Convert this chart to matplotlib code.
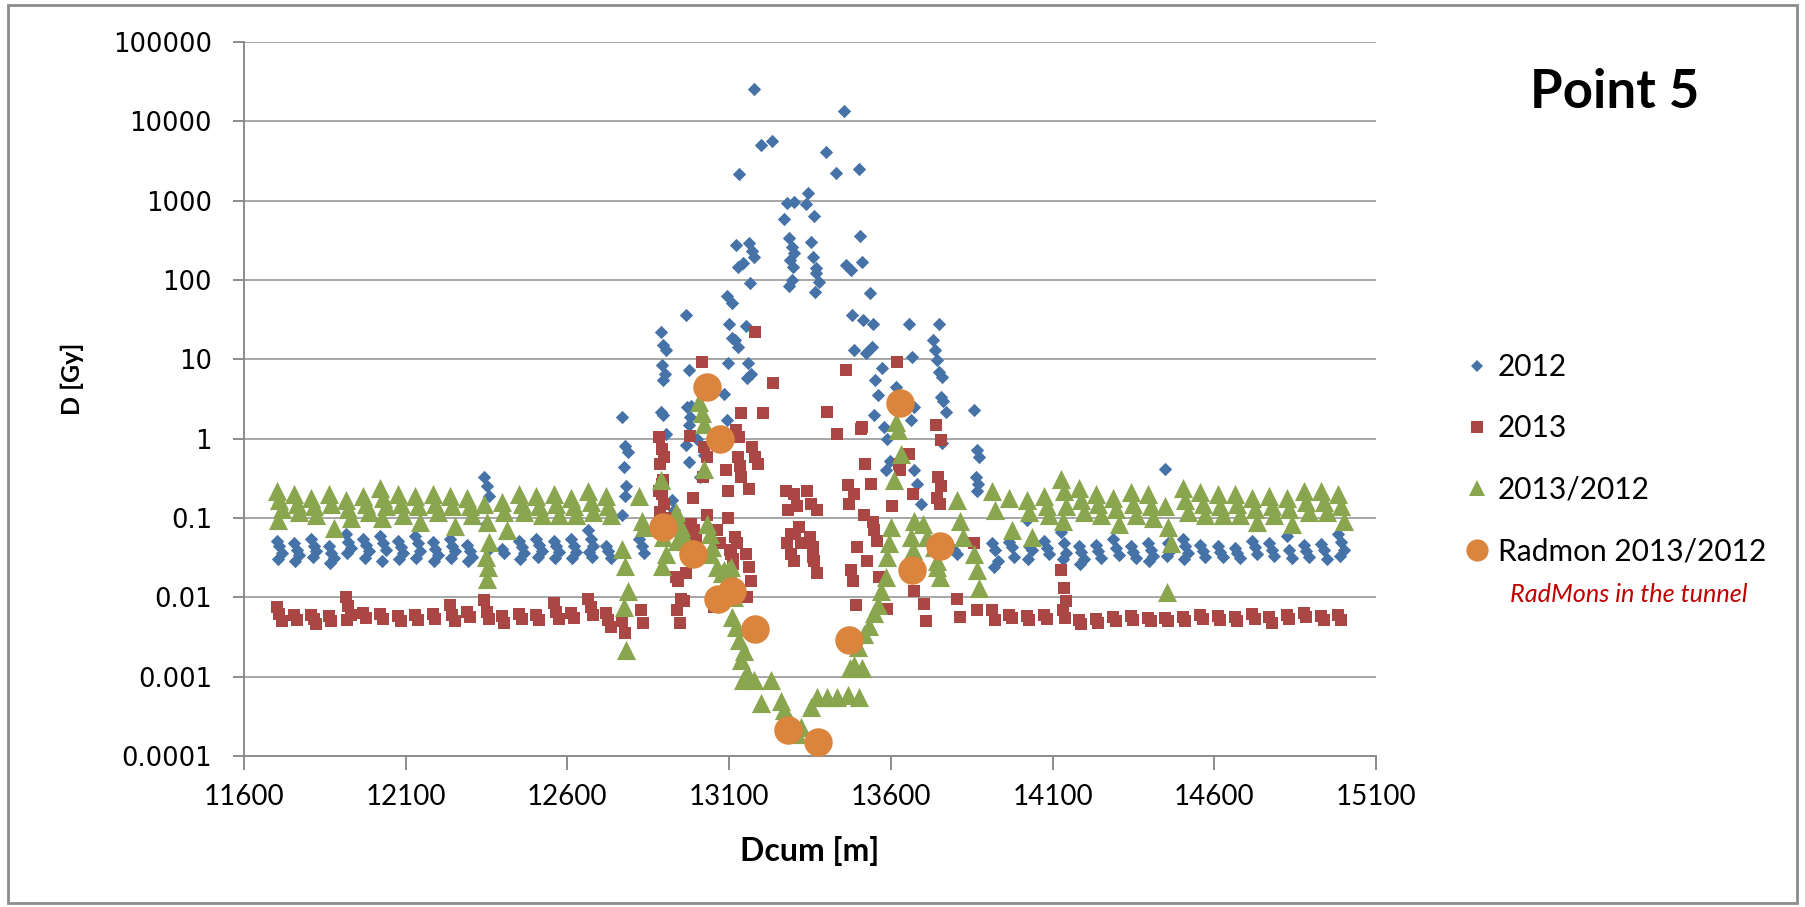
import numpy as np
import matplotlib
matplotlib.use("Agg")
import matplotlib.pyplot as plt
from matplotlib.lines import Line2D
from matplotlib.patches import Rectangle

# ---- data (Dcum [m], dose [Gy]) ----
# half-cell positions in the arcs left and right of Point 5
arc_l_x = [11709, 11763, 11816, 11870, 11923, 11977, 12030, 12084, 12137, 12191,
           12244, 12298, 12351, 12405, 12458, 12512, 12565, 12619, 12672, 12726]
arc_r_x = [13922, 13974, 14028, 14082, 14135, 14189, 14242, 14296, 14350, 14403,
           14457, 14510, 14564, 14618, 14671, 14725, 14778, 14832, 14885, 14939, 14992]
# BLM spread inside one half-cell
blm_offset = [-8, 0, 8, -4, 4, 0]

arc_l_2012 = [[0.052, 0.044, 0.036, 0.030], [0.048, 0.040, 0.034, 0.029],
              [0.055, 0.045, 0.038, 0.032], [0.044, 0.036, 0.031, 0.027],
              [0.062, 0.050, 0.042, 0.036], [0.055, 0.046, 0.038, 0.031],
              [0.060, 0.049, 0.040, 0.029], [0.052, 0.043, 0.036, 0.030],
              [0.060, 0.048, 0.038, 0.031], [0.050, 0.041, 0.034, 0.029],
              [0.055, 0.045, 0.038, 0.031], [0.046, 0.038, 0.032, 0.029],
              [0.33, 0.25, 0.19, 0.085, 0.040], [0.041, 0.036],
              [0.052, 0.043, 0.036, 0.030], [0.055, 0.046, 0.038, 0.032],
              [0.052, 0.044, 0.037, 0.031], [0.054, 0.045, 0.037, 0.031],
              [0.070, 0.055, 0.045, 0.037, 0.032], [0.045, 0.038, 0.031]]
arc_l_2013 = [[0.0075, 0.0062, 0.0050], [0.0060, 0.0052], [0.0060, 0.0054, 0.0046],
              [0.0058, 0.0050], [0.0102, 0.0078, 0.0060, 0.0052], [0.0064, 0.0055],
              [0.0062, 0.0054], [0.0058, 0.0050], [0.0060, 0.0052], [0.0062, 0.0054],
              [0.0080, 0.0060, 0.0050], [0.0065, 0.0056], [0.0092, 0.0066, 0.0054],
              [0.0058, 0.0048], [0.0062, 0.0054], [0.0060, 0.0052],
              [0.0085, 0.0065, 0.0053], [0.0064, 0.0055], [0.0095, 0.0075, 0.0060],
              [0.0064, 0.0052, 0.0042]]
arc_l_ratio = [[0.22, 0.17, 0.13, 0.095], [0.20, 0.15, 0.12], [0.18, 0.14, 0.11],
               [0.20, 0.15, 0.075], [0.17, 0.13, 0.10], [0.19, 0.15, 0.12],
               [0.24, 0.18, 0.14, 0.10], [0.20, 0.15, 0.11], [0.19, 0.14, 0.09],
               [0.20, 0.15, 0.12], [0.19, 0.14, 0.08], [0.18, 0.14, 0.11],
               [0.15, 0.09, 0.05, 0.032, 0.024, 0.017], [0.16, 0.12, 0.07],
               [0.20, 0.15, 0.12], [0.19, 0.14, 0.11], [0.20, 0.15, 0.11],
               [0.18, 0.14, 0.11], [0.22, 0.16, 0.12], [0.19, 0.14, 0.11]]

arc_r_2012 = [[0.048, 0.039, 0.029, 0.024], [0.050, 0.043, 0.032],
              [0.094, 0.045, 0.039, 0.030], [0.052, 0.042, 0.035],
              [0.067, 0.048, 0.036, 0.030], [0.045, 0.037, 0.030, 0.026],
              [0.046, 0.038, 0.031], [0.055, 0.042, 0.034], [0.045, 0.037, 0.031],
              [0.048, 0.040, 0.033, 0.029], [0.42, 0.048, 0.040, 0.033],
              [0.055, 0.045, 0.036, 0.030], [0.046, 0.038, 0.032],
              [0.045, 0.037, 0.032], [0.042, 0.036, 0.031], [0.052, 0.043, 0.035],
              [0.048, 0.040, 0.033], [0.060, 0.040, 0.031], [0.046, 0.038, 0.032],
              [0.047, 0.039, 0.030], [0.062, 0.050, 0.040, 0.033]]
arc_r_2013 = [[0.0069, 0.0052], [0.0060, 0.0055], [0.0058, 0.0052], [0.0060, 0.0054],
              [0.022, 0.013, 0.009, 0.0070, 0.0055], [0.0052, 0.0046],
              [0.0054, 0.0047], [0.0056, 0.0050], [0.0058, 0.0052], [0.0055, 0.0050],
              [0.0055, 0.0050], [0.0057, 0.0051], [0.0060, 0.0053], [0.0058, 0.0052],
              [0.0056, 0.0050], [0.0062, 0.0054], [0.0056, 0.0047], [0.0060, 0.0053],
              [0.0064, 0.0056], [0.0058, 0.0052], [0.0060, 0.0052]]
arc_r_ratio = [[0.22, 0.125], [0.18, 0.07], [0.17, 0.12, 0.058], [0.19, 0.14, 0.11],
               [0.31, 0.22, 0.14, 0.093], [0.24, 0.17, 0.12], [0.20, 0.15, 0.11],
               [0.18, 0.13, 0.085], [0.21, 0.15, 0.11], [0.20, 0.14, 0.10],
               [0.14, 0.077, 0.048, 0.0117], [0.24, 0.17, 0.12], [0.21, 0.15, 0.11],
               [0.20, 0.14, 0.11], [0.20, 0.15, 0.11], [0.18, 0.13, 0.09],
               [0.19, 0.14, 0.11], [0.18, 0.13, 0.085], [0.22, 0.16, 0.12],
               [0.22, 0.16, 0.12], [0.20, 0.14, 0.093]]

# long straight section around IP5
ls_2012 = [(12778, [1.9, 0.82, 0.68, 0.44, 0.25, 0.19, 0.11]), (12830, [0.055, 0.045, 0.036]),
           (12897, [22, 15, 13, 8.5, 6.6, 5.5, 2.2, 2.0, 1.15]), (12930, [0.17, 0.125]),
           (12975, [36, 7.3, 2.6, 2.5, 1.9, 1.5, 0.83, 0.51]), (13010, [1.0, 0.33]),
           (13031, [0.62]), (13093, [3.7, 1.7]), (13100, [62, 28, 18.5, 9]),
           (13118, [51, 17.5, 14.4]), (13128, [275, 147]), (13139, [2150]), (13152, [163]),
           (13159, [26, 9, 6.6, 5.8]), (13170, [296, 234, 195, 93]), (13184, [25700]),
           (13208, [5000]), (13239, [5700]), (13279, [580]), (13288, [930]),
           (13293, [335, 263, 218, 180, 147, 100, 83]), (13307, [970]), (13345, [905]),
           (13352, [1250]), (13360, [302, 195, 141]), (13369, [650, 121, 95, 71]),
           (13408, [4100]), (13438, [2240]), (13464, [13400]), (13469, [155]),
           (13484, [134]), (13487, [36, 13]), (13509, [2480]), (13514, [360]),
           (13520, [170]), (13523, [31.6, 12]), (13544, [68, 28]),
           (13551, [14.4, 5.5, 3.6, 2.0]), (13582, [7.8]), (13588, [1.4, 1.0, 0.53, 0.40]),
           (13625, [4.5]), (13665, [28, 10.7, 2.5, 1.7]), (13680, [0.40, 0.27]),
           (13700, [0.15]), (13737, [17.5, 13]), (13750, [9.8, 6.9, 6.0, 0.17]),
           (13757, [28]), (13762, [3.4, 3.0, 2.2, 0.87]), (13803, [0.040, 0.035]),
           (13866, [2.3, 0.71, 0.59, 0.33, 0.27, 0.22])]
ls_2013 = [(12778, [0.0051, 0.0036]), (12835, [0.0069, 0.0047]),
           (12891, [1.05, 0.75, 0.59, 0.48, 0.30, 0.27, 0.22, 0.20, 0.15, 0.12]),
           (12920, [0.10, 0.085]), (12943, [0.018, 0.016, 0.0096, 0.0069, 0.0047]),
           (12969, [0.0090]), (12974, [0.020]), (12980, [0.077, 0.057]), (12987, [1.07, 0.18]),
           (12990, [0.085, 0.070, 0.058]), (13023, [9.3, 0.79, 0.59, 0.33]), (13041, [0.11]),
           (13061, [0.0076]), (13071, [0.070, 0.048]), (13098, [0.40, 0.10]),
           (13103, [0.22, 0.039, 0.026]), (13113, [0.035, 0.030]), (13125, [0.057, 0.048]),
           (13129, [1.27, 1.05, 0.33]), (13135, [0.59, 0.45]), (13144, [2.1]),
           (13160, [0.035, 0.024, 0.016, 0.010]), (13170, [0.23]), (13180, [0.79, 0.59, 0.48]),
           (13188, [22]), (13214, [2.1]), (13244, [5.0]), (13283, [0.22, 0.125, 0.063, 0.048]),
           (13300, [0.035, 0.029]), (13309, [0.20, 0.14, 0.077, 0.063]), (13330, [0.048]),
           (13350, [0.22, 0.057, 0.043]), (13360, [0.15, 0.032]), (13371, [0.029, 0.020]),
           (13381, [0.125]), (13412, [2.2]), (13443, [1.16]), (13469, [7.4]),
           (13474, [0.26]), (13479, [0.15]), (13484, [0.022, 0.016]), (13494, [0.20, 0.043]),
           (13500, [0.0079]), (13515, [1.33]), (13520, [1.4, 0.48]), (13525, [0.11, 0.029]),
           (13546, [0.27, 0.089]), (13556, [0.070, 0.052, 0.018]), (13597, [0.0072]),
           (13613, [0.14]), (13628, [9.3, 0.40]), (13633, [0.48]), (13664, [0.65]),
           (13675, [0.20]), (13680, [0.012]), (13710, [0.0083, 0.0051]),
           (13747, [1.47, 0.33, 0.25]), (13752, [0.18, 0.15]), (13762, [0.95]),
           (13814, [0.0096, 0.0057]), (13866, [0.048, 0.0069])]
ls_ratio = [(12778, [0.041, 0.025, 0.012, 0.0075, 0.0022]), (12830, [0.19, 0.093, 0.077]),
            (12897, [0.30, 0.057, 0.035, 0.025]), (12943, [0.12, 0.089, 0.063, 0.052]),
            (12958, [0.077, 0.063]), (13015, [2.9, 2.1, 1.55]), (13031, [0.42]),
            (13041, [0.085, 0.035]), (13050, [0.063]), (13056, [0.043]), (13072, [0.024]),
            (13087, [0.020]), (13092, [0.022]), (13103, [0.022]), (13113, [0.024, 0.016]),
            (13123, [0.010]), (13118, [0.0056]), (13129, [0.0042]), (13140, [0.0029]),
            (13154, [0.0021, 0.0011]), (13144, [0.0016, 0.0009]), (13185, [0.0009]),
            (13237, [0.0009]), (13206, [0.00046]), (13268, [0.0005]), (13278, [0.00038]),
            (13299, [0.00026]), (13319, [0.00019]), (13330, [0.00023]), (13360, [0.00042]),
            (13381, [0.00055]), (13412, [0.00055]), (13443, [0.00055]), (13474, [0.00058, 0.0013]),
            (13510, [0.00055]), (13494, [0.0014]), (13520, [0.0013]), (13505, [0.0024]),
            (13525, [0.0035]), (13541, [0.0043]), (13556, [0.0063]), (13567, [0.008]),
            (13577, [0.012]), (13592, [0.018]), (13597, [0.032]), (13603, [0.048]),
            (13608, [0.077]), (13618, [0.30]), (13623, [1.6, 1.27, 0.65]),
            (13670, [0.057, 0.039]), (13680, [0.093]), (13706, [0.085]), (13721, [0.057]),
            (13742, [0.043, 0.024]), (13752, [0.029, 0.018]), (13814, [0.17, 0.093, 0.057]),
            (13866, [0.035, 0.022, 0.013])]

radmon_x = [12897, 12989, 13031, 13072, 13065, 13108, 13180, 13283, 13376, 13472, 13628, 13665, 13752]
radmon_y = [0.077, 0.035, 4.5, 1.0, 0.0096, 0.012, 0.004, 0.00021, 0.00015, 0.0029, 2.8, 0.022, 0.045]

x_ticks = list(range(11600, 15101, 500))
y_ticks = [1e-4, 1e-3, 1e-2, 1e-1, 1, 10, 100, 1000, 10000, 100000]
y_labels = ["0.0001", "0.001", "0.01", "0.1", "1", "10", "100", "1000", "10000", "100000"]

C_BLUE = "#4572a7"
C_RED = "#aa4643"
C_GREEN = "#89a54e"
C_ORANGE = "#db843d"


def flatten(groups):
    xs, ys = [], []
    for x0, vals in groups:
        for i, v in enumerate(vals):
            xs.append(x0 + blm_offset[i % len(blm_offset)])
            ys.append(v)
    return np.array(xs), np.array(ys)


def series(arc_l, arc_r, ls):
    groups = list(zip(arc_l_x, arc_l)) + list(ls) + list(zip(arc_r_x, arc_r))
    return flatten(groups)


x12, y12 = series(arc_l_2012, arc_r_2012, ls_2012)
x13, y13 = series(arc_l_2013, arc_r_2013, ls_2013)
xr, yr = series(arc_l_ratio, arc_r_ratio, ls_ratio)

W, H = 1806, 907
fig = plt.figure(figsize=(W / 100, H / 100), dpi=100)
ax = fig.add_axes([244 / W, 1 - 756 / H, (1376 - 244) / W, (756 - 42) / H])

ax.scatter(x12, y12, marker="D", s=46, color=C_BLUE, lw=0, zorder=3)
ax.scatter(x13, y13, marker="s", s=85, color=C_RED, lw=0, zorder=4)
ax.scatter(xr, yr, marker="^", s=190, color=C_GREEN, lw=0, zorder=5)
ax.scatter(radmon_x, radmon_y, marker="o", s=420, color=C_ORANGE, lw=0, zorder=6)

ax.set_yscale("log")
ax.set_ylim(1e-4, 1e5)
ax.set_xlim(11600, 15100)
ax.set_xticks(x_ticks)
ax.set_xticklabels([str(t) for t in x_ticks], fontfamily="Lato", fontsize=20)
ax.set_yticks(y_ticks)
ax.set_yticklabels(y_labels, fontfamily="DejaVu Sans", fontsize=18.6)
ax.yaxis.set_minor_locator(matplotlib.ticker.NullLocator())
ax.grid(axis="y", color="#a6a6a6", lw=1.4, zorder=0)
ax.grid(axis="x", visible=False)
for side in ("top", "right"):
    ax.spines[side].set_visible(False)
for side in ("left", "bottom"):
    ax.spines[side].set_color("#8c8c8c")
    ax.spines[side].set_linewidth(1.4)
ax.tick_params(axis="x", direction="out", length=10, width=1.4, color="#8c8c8c", pad=10)
ax.tick_params(axis="y", direction="out", length=8, width=1.4, color="#8c8c8c", pad=15)

fig.text(72 / W, 1 - 379 / H, "D [Gy]", rotation=90, ha="center", va="center",
         fontfamily="Lato", fontweight="bold", fontsize=18)
fig.text(810 / W, 1 - 851 / H, "Dcum [m]", ha="center", va="center",
         fontfamily="Lato", fontweight="bold", fontsize=23)
fig.text(1530 / W, 1 - 108 / H, "Point 5", ha="left", va="baseline",
         fontfamily="Lato", fontweight="bold", fontsize=38)

handles = [Line2D([], [], ls="none", marker="D", ms=6, color=C_BLUE, mew=0),
           Line2D([], [], ls="none", marker="s", ms=8, color=C_RED, mew=0),
           Line2D([], [], ls="none", marker="^", ms=12, color=C_GREEN, mew=0),
           Line2D([], [], ls="none", marker="o", ms=16, color=C_ORANGE, mew=0)]
labels = ["2012", "2013", "2013/2012", "Radmon 2013/2012"]
fig.legend(handles, labels, loc="upper left", bbox_to_anchor=(1465 / W, 1 - 353 / H),
           frameon=False, prop={"family": "Lato", "size": 21.5}, handlelength=0.8,
           handletextpad=0.3, labelspacing=1.12, borderaxespad=0, borderpad=0)
fig.text(1510 / W, 1 - 595 / H, "RadMons in the tunnel", ha="left", va="center",
         color="#c00000", fontfamily="Lato", fontstyle="italic", fontsize=18.2)

fig.patches.append(Rectangle((8 / W, 4 / H), (1797 - 8) / W, (903 - 5) / H,
                             transform=fig.transFigure, fill=False,
                             edgecolor="#8c8c8c", lw=2))

fig.savefig("out.png", dpi=100)
